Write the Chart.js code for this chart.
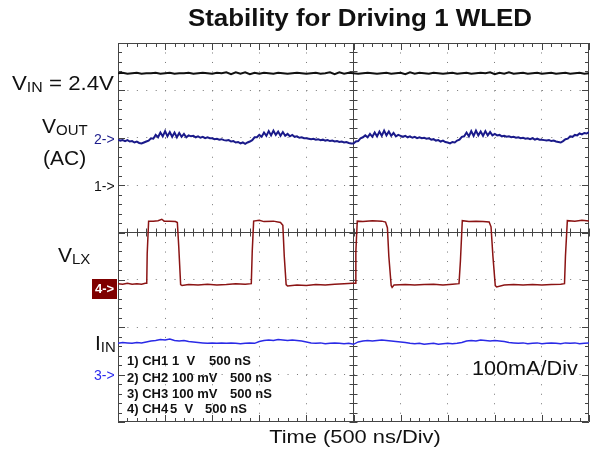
<!DOCTYPE html>
<html>
<head>
<meta charset="utf-8">
<script src="https://cdn.jsdelivr.net/npm/chart.js@4.4.1/dist/chart.umd.min.js"></script>
<style>
  html, body { margin: 0; padding: 0; background: #fff; }
  #wrap { position: relative; width: 597px; height: 455px; font-family: "Liberation Sans", Arial, sans-serif; color: #111; }
  #scope { position: absolute; left: 0; top: 0; }
  .lbl { position: absolute; white-space: pre; line-height: 1; }
  .sub { font-size: 15px; position: relative; top: 2px; }
  .leg { font-size: 13px; font-weight: bold; }
</style>
</head>
<body>
<div id="wrap">
  <canvas id="scope" width="597" height="455"></canvas>

  <div class="lbl" style="left:160px;top:6px;width:400px;text-align:center;font-size:24px;font-weight:bold;transform:scaleX(1.08);">Stability for Driving 1 WLED</div>
  <div class="lbl" style="left:12px;top:72px;font-size:21px;transform-origin:left;transform:scaleX(1.06);">V<span class="sub">IN</span> = 2.4V</div>
  <div class="lbl" style="left:42px;top:115px;font-size:21px;">V<span class="sub">OUT</span></div>
  <div class="lbl" style="left:43px;top:147px;font-size:21px;">(AC)</div>
  <div class="lbl" style="left:58px;top:244px;font-size:21px;">V<span class="sub">LX</span></div>
  <div class="lbl" style="left:95px;top:332px;font-size:21px;">I<span class="sub">IN</span></div>

  <div class="lbl" style="left:94px;top:132px;font-size:14px;color:#1c1c8c;">2-&gt;</div>
  <div class="lbl" style="left:94px;top:179px;font-size:14px;color:#111;">1-&gt;</div>
  <div class="lbl" style="left:92px;top:279px;width:25px;height:20px;background:#7f0000;color:#fff;font-size:13px;font-weight:bold;text-align:center;line-height:20px;">4-&gt;</div>
  <div class="lbl" style="left:94px;top:368px;font-size:14px;color:#2a2aee;">3-&gt;</div>

  <div class="lbl leg" style="left:127px;top:354px;">1) CH1</div>
  <div class="lbl leg" style="left:172px;top:354px;">1  V</div>
  <div class="lbl leg" style="left:209px;top:354px;">500 nS</div>
  <div class="lbl leg" style="left:127px;top:371px;">2) CH2</div>
  <div class="lbl leg" style="left:172px;top:371px;">100 mV</div>
  <div class="lbl leg" style="left:230px;top:371px;">500 nS</div>
  <div class="lbl leg" style="left:127px;top:387px;">3) CH3</div>
  <div class="lbl leg" style="left:172px;top:387px;">100 mV</div>
  <div class="lbl leg" style="left:230px;top:387px;">500 nS</div>
  <div class="lbl leg" style="left:127px;top:402px;">4) CH4</div>
  <div class="lbl leg" style="left:170px;top:402px;">5  V</div>
  <div class="lbl leg" style="left:205px;top:402px;">500 nS</div>

  <div class="lbl" style="left:472px;top:357px;font-size:21px;transform-origin:left;transform:scaleX(1.03);">100mA/Div</div>
  <div class="lbl" style="left:205px;top:427px;width:300px;text-align:center;font-size:19px;transform:scaleX(1.15);">Time (500 ns/Div)</div>
</div>

<script>
// screen positions are in divisions: x 0..10, y 0..8 (bottom = 0)

// CH1, V_IN, sampled every 0.1 div
const vin = [
  7.36, 7.37, 7.35, 7.36, 7.37, 7.35, 7.36, 7.36, 7.37, 7.35,
  7.36, 7.37, 7.35, 7.36, 7.36, 7.37, 7.35, 7.36, 7.37, 7.36,
  7.35, 7.37, 7.36, 7.38, 7.34, 7.38, 7.35, 7.38, 7.34, 7.37,
  7.35, 7.37, 7.36, 7.35, 7.37, 7.36, 7.35, 7.36, 7.37, 7.36,
  7.35, 7.36, 7.37, 7.35, 7.36, 7.38, 7.34, 7.38, 7.35, 7.37,
  7.36, 7.35, 7.36, 7.37, 7.36, 7.35, 7.36, 7.37, 7.35, 7.36,
  7.37, 7.34, 7.38, 7.35, 7.37, 7.36, 7.35, 7.37, 7.36, 7.35,
  7.36, 7.37, 7.35, 7.36, 7.37, 7.35, 7.36, 7.37, 7.36, 7.38,
  7.34, 7.37, 7.35, 7.38, 7.35, 7.36, 7.37, 7.35, 7.36, 7.37,
  7.35, 7.36, 7.37, 7.35, 7.36, 7.37, 7.35, 7.36, 7.37, 7.35, 7.36
];

// CH2, V_OUT (AC), sampled every 0.05 div
const vout = [
  5.96, 5.94, 5.95, 5.93, 5.95, 5.92, 5.93, 5.90, 5.92, 5.89, 5.88, 5.90, 5.92, 5.94, 5.99, 5.98, 6.06, 6.01, 6.11, 6.03,
  6.14, 6.03, 6.12, 6.02, 6.11, 6.01, 6.10, 6.02, 6.08, 6.01, 6.05, 6.03, 6.04, 6.01, 6.03, 6.00, 6.02, 5.99, 6.01, 5.99,
  5.99, 5.97, 5.98, 5.96, 5.97, 5.95, 5.94, 5.95, 5.92, 5.93, 5.90, 5.91, 5.88, 5.90, 5.87, 5.90, 5.92, 5.95, 6.01, 6.01,
  6.06, 6.02, 6.11, 6.04, 6.14, 6.05, 6.15, 6.06, 6.13, 6.04, 6.12, 6.04, 6.08, 6.03, 6.06, 6.02, 6.03, 6.00, 6.01, 5.99,
  5.99, 5.98, 5.97, 5.98, 5.96, 5.97, 5.95, 5.96, 5.94, 5.95, 5.93, 5.94, 5.92, 5.93, 5.91, 5.92, 5.90, 5.91, 5.89, 5.88,
  5.88, 5.92, 5.93, 5.99, 6.01, 6.05, 6.01, 6.08, 6.02, 6.11, 6.03, 6.13, 6.04, 6.15, 6.05, 6.13, 6.04, 6.10, 6.03, 6.06,
  6.04, 6.02, 6.04, 6.01, 6.03, 6.00, 6.02, 5.99, 6.01, 5.99, 6.00, 5.98, 5.99, 5.96, 5.97, 5.94, 5.95, 5.92, 5.94, 5.91,
  5.90, 5.88, 5.91, 5.90, 5.94, 5.96, 6.02, 6.03, 6.11, 6.03, 6.14, 6.04, 6.15, 6.05, 6.13, 6.04, 6.14, 6.05, 6.12, 6.05,
  6.08, 6.05, 6.06, 6.03, 6.04, 6.02, 6.03, 6.01, 6.02, 6.00, 6.01, 5.99, 6.00, 5.98, 5.99, 5.97, 5.99, 5.96, 5.98, 5.96,
  5.96, 5.95, 5.94, 5.95, 5.93, 5.94, 5.92, 5.91, 5.90, 5.93, 5.97, 5.98, 6.03, 6.02, 6.06, 6.05, 6.09, 6.07, 6.10, 6.09, 6.12
];

// CH3, I_IN, sampled every 0.1 div
const iin = [
  1.66, 1.68, 1.67, 1.66, 1.68, 1.67, 1.69,
  1.71, 1.72, 1.74, 1.73, 1.75, 1.72, 1.71, 1.72,
  1.70, 1.69, 1.68, 1.67, 1.66, 1.67, 1.66, 1.67, 1.66, 1.67,
  1.66, 1.65, 1.66, 1.67, 1.66, 1.70,
  1.72, 1.73, 1.72, 1.74, 1.73, 1.72, 1.73, 1.72, 1.71, 1.69,
  1.67, 1.66, 1.67, 1.65, 1.66, 1.67, 1.66, 1.65, 1.66, 1.64,
  1.69, 1.71, 1.72, 1.71, 1.72, 1.73, 1.72, 1.71, 1.70, 1.69, 1.68,
  1.66, 1.65, 1.66, 1.64, 1.65, 1.66, 1.64, 1.65, 1.66, 1.65, 1.66, 1.68,
  1.71, 1.72, 1.71, 1.73, 1.72, 1.71, 1.72, 1.71, 1.70, 1.68, 1.67,
  1.66, 1.67, 1.65, 1.66, 1.67, 1.65, 1.66, 1.67, 1.66, 1.65, 1.67, 1.66, 1.67, 1.65, 1.66, 1.67
];

// CH4, V_LX switching node: edge times and levels
const vlxTime = [
  0.00, 0.10, 0.20, 0.30, 0.40, 0.50, 0.58, 0.61, 0.62, 0.65, 0.75, 0.85, 0.93, 0.98, 1.10, 1.22, 1.26, 1.29, 1.33, 1.36,
  1.50, 1.70, 1.90, 2.10, 2.30, 2.50, 2.70, 2.83, 2.85, 2.88, 3.00, 3.10, 3.30, 3.45, 3.50, 3.53, 3.57, 3.60,
  3.80, 4.00, 4.20, 4.40, 4.60, 4.80, 4.98, 5.04, 5.05, 5.08, 5.20, 5.40, 5.60, 5.68, 5.72, 5.75, 5.80, 5.82, 5.86,
  6.10, 6.30, 6.50, 6.70, 6.90, 7.10, 7.24, 7.27, 7.31, 7.45, 7.60, 7.75, 7.88, 7.92, 7.96, 8.01, 8.04,
  8.20, 8.40, 8.60, 8.80, 9.00, 9.20, 9.40, 9.48, 9.50, 9.54, 9.70, 9.85, 10.00
];
const vlx = [
  2.92, 2.91, 2.93, 2.91, 2.92, 2.91, 2.93, 2.93, 3.55, 4.24, 4.24, 4.25, 4.28, 4.24, 4.24, 4.23, 4.21, 3.70, 2.90, 2.88,
  2.90, 2.89, 2.91, 2.89, 2.90, 2.92, 2.91, 2.92, 3.60, 4.24, 4.26, 4.23, 4.24, 4.21, 4.15, 3.50, 2.90, 2.87,
  2.89, 2.88, 2.90, 2.89, 2.91, 2.92, 2.93, 2.93, 3.60, 4.24, 4.23, 4.25, 4.24, 4.22, 4.10, 3.50, 2.88, 2.84, 2.89,
  2.90, 2.89, 2.90, 2.91, 2.89, 2.91, 2.92, 3.40, 4.25, 4.23, 4.24, 4.23, 4.22, 4.12, 3.50, 2.88, 2.85,
  2.89, 2.90, 2.89, 2.90, 2.89, 2.90, 2.91, 2.92, 3.50, 4.25, 4.24, 4.26, 4.24
];

const DIVS_X = 10;
const DIVS_Y = 8;

function pts(values, step) {
  return values.map((v, i) => ({ x: i * step, y: v }));
}

// scope graticule: frame, centre cross and minor ticks
const graticule = {
  id: 'graticule',
  beforeDatasetsDraw(chart) {
    const { ctx, chartArea: a, scales: { x, y } } = chart;
    const cx = x.getPixelForValue(DIVS_X / 2);
    const cy = y.getPixelForValue(DIVS_Y / 2);
    ctx.save();
    ctx.strokeStyle = '#444';
    ctx.lineWidth = 1;
    ctx.beginPath();
    ctx.rect(a.left + 0.5, a.top + 0.5, a.width - 1, a.height - 1);
    ctx.moveTo(cx, a.top); ctx.lineTo(cx, a.bottom);
    ctx.moveTo(a.left, cy); ctx.lineTo(a.right, cy);
    for (let i = 0; i <= DIVS_X * 5; i++) {
      const px = Math.round(x.getPixelForValue(i / 5)) + 0.5;
      const len = i % 5 === 0 ? 7 : 4;
      ctx.moveTo(px, a.top); ctx.lineTo(px, a.top + len);
      ctx.moveTo(px, a.bottom); ctx.lineTo(px, a.bottom - len);
      ctx.moveTo(px, cy - 4); ctx.lineTo(px, cy + 4);
    }
    for (let i = 0; i <= DIVS_Y * 5; i++) {
      const py = Math.round(y.getPixelForValue(i / 5)) + 0.5;
      const len = i % 5 === 0 ? 7 : 4;
      ctx.moveTo(a.left, py); ctx.lineTo(a.left + len, py);
      ctx.moveTo(a.right, py); ctx.lineTo(a.right - len, py);
      ctx.moveTo(cx - 4, py); ctx.lineTo(cx + 4, py);
    }
    ctx.stroke();
    ctx.restore();
  }
};

const hideEdges = (mid, max) => (c) => {
  const v = c.tick.value;
  return (v === 0 || v === mid || v === max) ? 'rgba(0,0,0,0)' : '#777';
};

new Chart(document.getElementById('scope'), {
  type: 'line',
  data: {
    datasets: [
      { label: 'VLX', data: vlxTime.map((t, i) => ({ x: t, y: vlx[i] })), borderColor: '#8b1414', borderWidth: 1.5 },
      { label: 'VOUT', data: pts(vout, 0.05), borderColor: '#1a1a8a', borderWidth: 2 },
      { label: 'VIN', data: pts(vin, 0.1), borderColor: '#111', borderWidth: 2 },
      { label: 'IIN', data: pts(iin, 0.1), borderColor: '#2a2ae6', borderWidth: 1.5 }
    ]
  },
  options: {
    responsive: false,
    animation: false,
    devicePixelRatio: 1,
    layout: { padding: { left: 118, right: 8, top: 43, bottom: 33 } },
    elements: { point: { radius: 0 }, line: { tension: 0 } },
    plugins: { legend: { display: false }, tooltip: { enabled: false } },
    scales: {
      x: {
        type: 'linear', min: 0, max: DIVS_X,
        ticks: { display: false, stepSize: 1 },
        grid: { color: hideEdges(5, 10), drawTicks: false, lineWidth: 1 },
        border: { display: false, dash: [1, 8.48] }
      },
      y: {
        min: 0, max: DIVS_Y,
        ticks: { display: false, stepSize: 1 },
        grid: { color: hideEdges(4, 8), drawTicks: false, lineWidth: 1 },
        border: { display: false, dash: [1, 8.42] }
      }
    }
  },
  plugins: [graticule]
});
</script>
</body>
</html>
